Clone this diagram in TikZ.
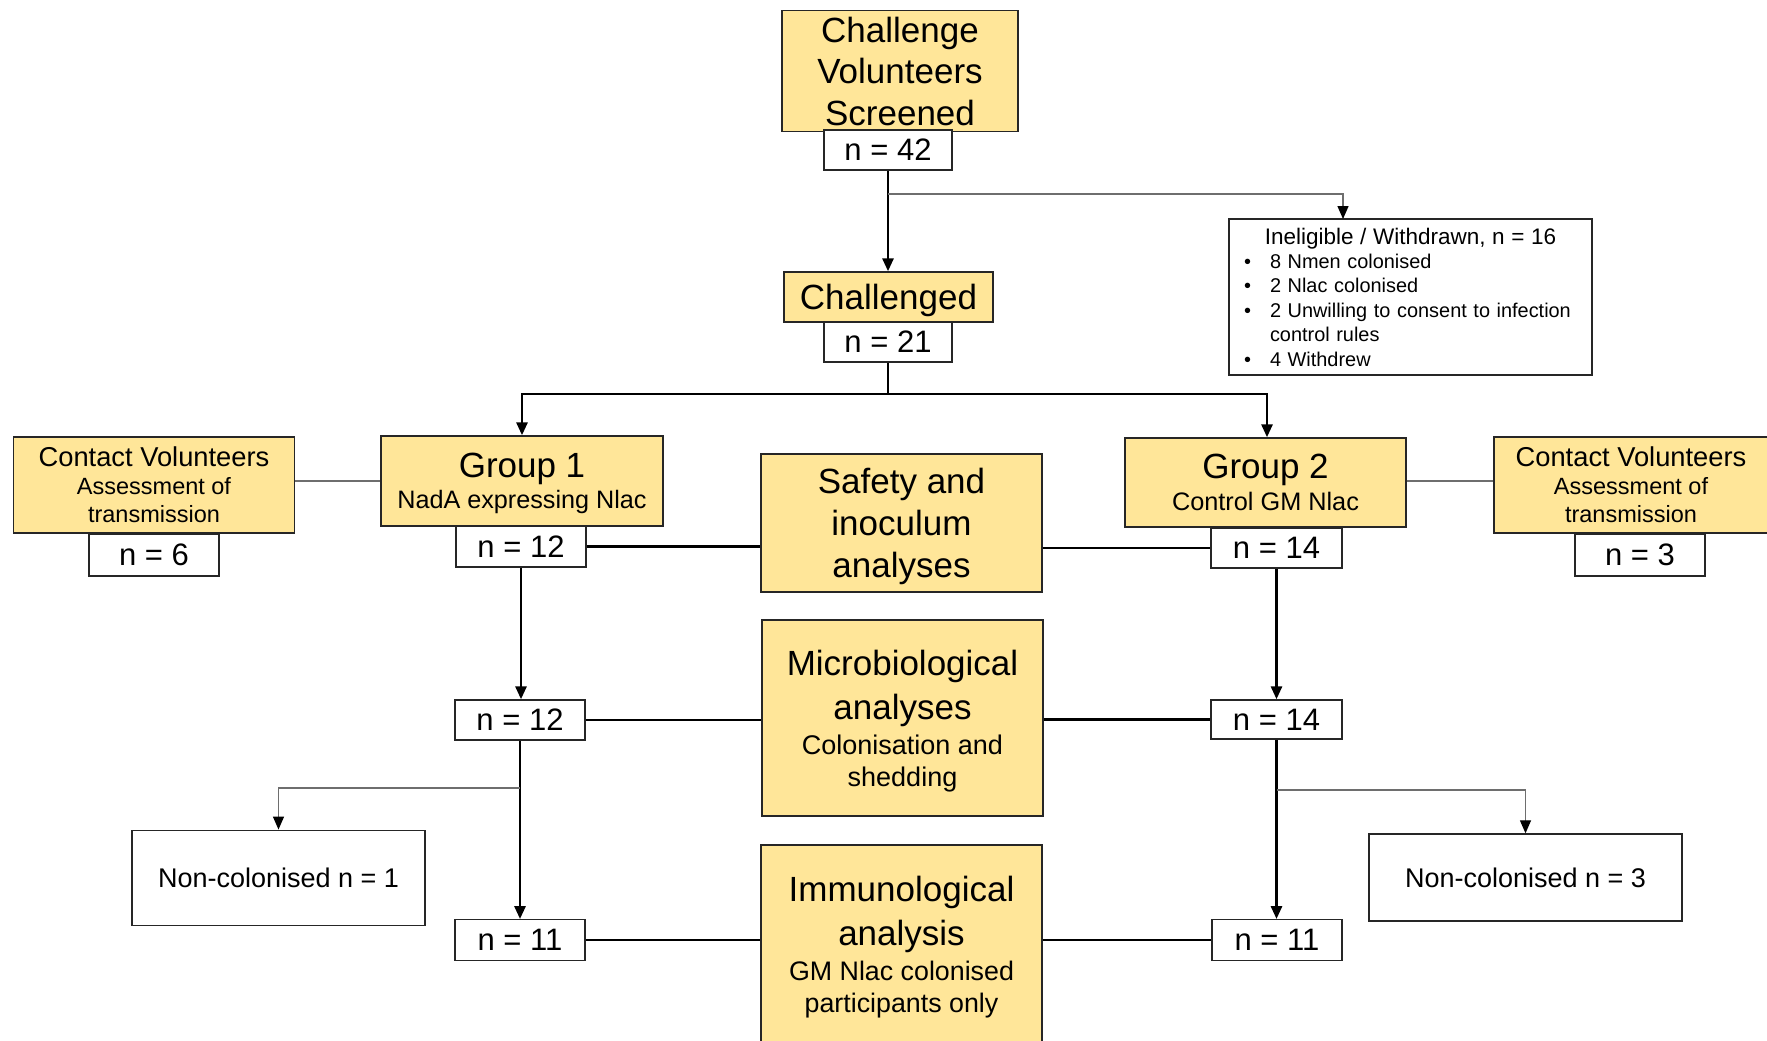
\documentclass[tikz,border=0pt]{standalone}
\usepackage{fontspec}
\setmainfont{Liberation Sans}
\usetikzlibrary{arrows.meta}
\definecolor{boxfill}{HTML}{FFE699}
\definecolor{thinline}{HTML}{6E6E6E}
\tikzset{
  ybox/.style={draw=black!85, line width=1.4pt, fill=boxfill, inner sep=0pt, align=center},
  wbox/.style={draw=black!85, line width=1.4pt, fill=white, inner sep=0pt, align=center},
  nlab/.style={wbox, font=\fontsize{31}{36}\selectfont, text depth=-4pt},
  mainline/.style={black, line width=2.8pt},
  thinconn/.style={thinline, line width=1.3pt},
  tip/.style={-{Triangle[length=13pt,width=11pt,color=black]}},
}
\newcommand{\bigf}{\fontsize{35}{42}\selectfont}
\begin{document}
\begin{tikzpicture}[x=1pt,y=-1pt]
\useasboundingbox[fill=white] (0,0) rectangle (1767,1041);

% top
\node[ybox, minimum width=236pt, minimum height=121pt, font=\fontsize{35}{41.5}\selectfont] (scr) at (900,71) {Challenge\\Volunteers\\Screened};
\node[nlab, minimum width=128pt, minimum height=40pt] (n42) at (888,150) {n = 42};
\node[ybox, minimum width=209pt, minimum height=50pt, font=\bigf, text depth=-3pt] (chal) at (888.5,297) {Challenged};
\node[nlab, minimum width=128pt, minimum height=40pt, text depth=-2pt] (n21) at (888,342) {n = 21};

% ineligible
\node[wbox, minimum width=363pt, minimum height=156pt, text width=363pt, align=left, font=\fontsize{19.9}{24.4}\selectfont] (inel) at (1410.5,297) {%
\makebox[363pt][c]{\fontsize{22.5}{24.4}\selectfont Ineligible / Withdrawn, n = 16}\\
\hspace*{15pt}\makebox[26pt][l]{\textbullet}8 Nmen colonised\\
\hspace*{15pt}\makebox[26pt][l]{\textbullet}2 Nlac colonised\\
\hspace*{15pt}\makebox[26pt][l]{\textbullet}2 Unwilling to consent to infection\\
\hspace*{41pt}control rules\\
\hspace*{15pt}\makebox[26pt][l]{\textbullet}4 Withdrew};

% groups row
\node[ybox, minimum width=281.5pt, minimum height=96pt, font=\fontsize{23.5}{28}\selectfont, text depth=-3pt] (contL) at (154,485) {{\fontsize{27.3}{28}\selectfont Contact Volunteers}\\Assessment of\\transmission};
\node[nlab, minimum width=130pt, minimum height=42pt] (n6) at (154,555) {n = 6};
\node[ybox, minimum width=282pt, minimum height=90pt, font=\fontsize{25.2}{31.5}\selectfont, text depth=-3.5pt] (grp1) at (522,481) {{\fontsize{35}{31.5}\selectfont Group 1}\\NadA expressing Nlac};
\node[nlab, minimum width=130pt, minimum height=41pt] (n12a) at (521,546.5) {n = 12};
\node[ybox, minimum width=281pt, minimum height=138pt, font=\bigf, text depth=-4pt] (safety) at (901.5,523) {Safety and\\inoculum\\analyses};
\node[ybox, minimum width=281pt, minimum height=89pt, font=\fontsize{25.3}{31.5}\selectfont, text depth=-5pt] (grp2) at (1265.5,482.5) {{\fontsize{35}{31.5}\selectfont Group 2}\\Control GM Nlac};
\node[nlab, minimum width=131pt, minimum height=40pt] (n14a) at (1276.5,548) {n = 14};
\node[ybox, minimum width=274pt, minimum height=96pt, font=\fontsize{23.5}{28}\selectfont, text depth=-3pt] (contR) at (1631,485) {{\fontsize{27.3}{28}\selectfont Contact Volunteers}\\Assessment of\\transmission};
\node[nlab, minimum width=130pt, minimum height=42pt] (n3) at (1640,555) {n = 3};

% middle row
\node[nlab, minimum width=130pt, minimum height=40pt] (n12b) at (520,720) {n = 12};
\node[ybox, minimum width=281pt, minimum height=196pt, font=\fontsize{27}{32}\selectfont, text depth=-6.5pt] (micro) at (902.5,718) {{\bigf Microbiological}\\[10pt]{\bigf analyses}\\[3pt]Colonisation and\\shedding};
\node[nlab, minimum width=131pt, minimum height=39pt] (n14b) at (1276.5,719.5) {n = 14};

% bottom row
\node[wbox, minimum width=293pt, minimum height=95.5pt, font=\fontsize{27}{30}\selectfont, text depth=-4pt] (nc1) at (278.5,878) {Non-colonised n = 1};
\node[nlab, minimum width=130pt, minimum height=40.5pt] (n11L) at (520,940) {n = 11};
\node[ybox, minimum width=281pt, minimum height=198pt, font=\fontsize{26.8}{32}\selectfont, text depth=-6pt] (immuno) at (901.5,944) {{\bigf Immunological}\\[10pt]{\bigf analysis}\\[3pt]GM Nlac colonised\\participants only};
\node[nlab, minimum width=130pt, minimum height=40.5pt] (n11R) at (1277,940) {n = 11};
\node[wbox, minimum width=313pt, minimum height=87pt, font=\fontsize{27}{30}\selectfont, text depth=-2pt] (nc3) at (1525.5,877.5) {Non-colonised n = 3};

% coordinates
\coordinate (b1) at (888,194);
\coordinate (inelin) at (1343,219);
\coordinate (j) at (888,394);
\coordinate (bl) at (520,788);
\coordinate (br) at (1277,790);

% connectors
\draw[mainline,tip] (n42.south) -- (n42.south |- chal.north);
\draw[thinconn,tip] (b1) -| (inelin);
\draw[mainline] (n21.south) -- (j);
\draw[mainline,tip] (j) -| (grp1.north);
\draw[mainline,tip] (j) -| ([xshift=1.5pt]grp2.north);
\draw[thinconn] (contL.east |- grp1.west) -- (grp1.west);
\draw[thinconn] (grp2.east |- grp1.west) -- (contR.west |- grp1.west);
\draw[mainline] (n12a.east) -- (safety.west |- n12a.east);
\draw[mainline] (safety.east |- n14a.west) -- (n14a.west);
\draw[mainline,tip] (n12a.south) -- (n12a.south |- n12b.north);
\draw[mainline,tip] (n14a.south) -- (n14a.south |- n14b.north);
\draw[mainline] (n12b.east) -- (micro.west |- n12b.east);
\draw[mainline] (micro.east |- n14b.west) -- (n14b.west);
\draw[mainline,tip] (n12b.south) -- (n12b.south |- n11L.north);
\draw[mainline,tip] (n14b.south) -- (n14b.south |- n11R.north);
\draw[thinconn,tip] (bl) -| (nc1.north);
\draw[thinconn,tip] (br) -| (nc3.north);
\draw[mainline] (n11L.east) -- (immuno.west |- n11L.east);
\draw[mainline] (immuno.east |- n11R.west) -- (n11R.west);
\end{tikzpicture}
\end{document}
